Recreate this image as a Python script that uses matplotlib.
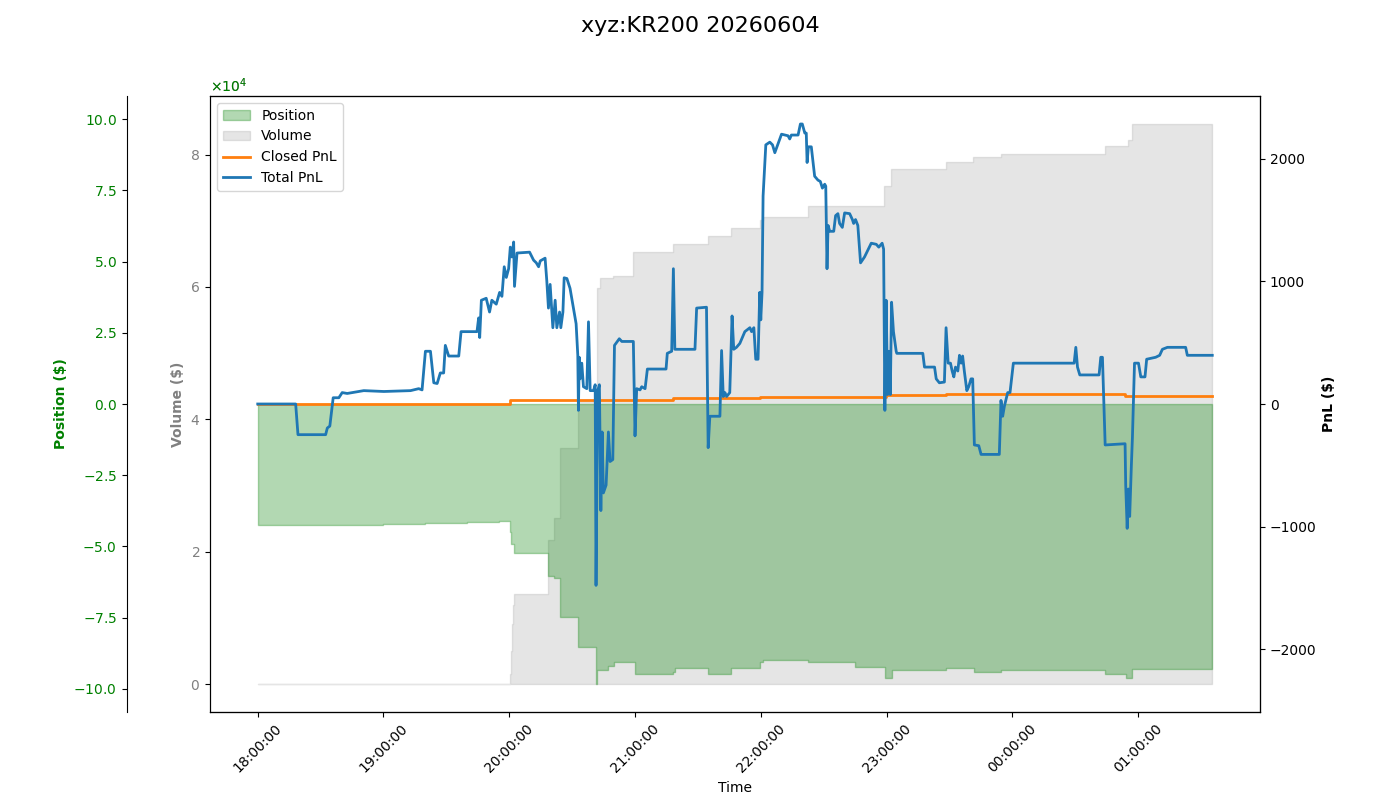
import matplotlib
matplotlib.use("Agg")
import matplotlib.pyplot as plt
import matplotlib.dates as mdates
import pandas as pd
import numpy as np

# minutes after 18:00 on 2026-06-04
pnl_min = [0, 18.1, 19.2, 32.4, 33.2, 34.4, 36.0, 38.7, 40.3, 42.7, 50.6, 60.2, 72.9, 76.8,
           78.4, 80.0, 82.4, 84.0, 85.6, 87.1, 88.7, 89.5, 91.1, 95.9, 97.0, 104.6, 105.4,
           105.9, 106.7, 109.0, 110.6, 111.7, 113.8, 115.4, 116.5, 117.6, 118.6, 119.7, 120.5,
           121.3, 122.1, 122.5, 123.7, 129.7, 131.6, 132.9, 134.0, 134.8, 137.1, 137.9, 138.7,
           139.5, 140.8, 141.9, 142.7, 144.0, 144.6, 145.6, 146.2, 147.5, 149.0, 150.6, 151.9,
           152.7, 153.0, 153.4, 153.8, 154.6, 155.4, 157.0, 157.8, 158.6, 160.2, 161.0, 161.4,
           162.2, 163.0, 163.7, 164.3, 164.9, 166.2, 167.3, 168.1, 169.4, 170.2, 172.5, 173.7,
           179.2, 180.0, 180.8, 182.4, 183.2, 184.8, 185.9, 194.8, 195.4, 197.5, 198.3, 199.0,
           208.6, 209.4, 214.1, 214.9, 215.7, 220.5, 221.3, 222.1, 222.9, 223.7, 225.2, 226.3,
           227.1, 228.4, 230.0, 232.4, 234.8, 235.6, 236.7, 237.6, 238.7, 239.5, 240.0, 240.6,
           241.1, 242.4, 244.3, 245.6, 246.7, 249.9, 253.0, 253.8, 254.6, 257.8, 258.9, 259.8,
           261.0, 261.7, 262.1, 262.7, 264.1, 265.7, 267.3, 268.4, 269.4, 270.5, 271.0, 271.6,
           272.1, 272.9, 274.8, 275.7, 276.8, 277.6, 278.9, 280.0, 282.4, 283.7, 284.3, 285.2,
           286.3, 287.6, 289.5, 292.7, 295.1, 296.3, 297.9, 298.6, 299.2, 299.8, 300.5, 301.1,
           301.8, 302.4, 303.3, 304.6, 304.9, 317.3, 318.1, 322.9, 323.7, 325.2, 327.6, 328.4,
           329.4, 330.5, 331.3, 332.1, 332.9, 334.0, 334.8, 335.6, 336.3, 337.1, 338.3, 339.2,
           340.3, 341.1, 341.9, 344.0, 345.1, 353.8, 354.6, 355.4, 356.2, 357.8, 358.9, 360.5,
           389.5, 390.3, 391.1, 392.2, 401.4, 402.2, 403.0, 404.3, 413.8, 414.1, 414.8, 415.4,
           416.0, 416.8, 417.3, 418.3, 420.2, 421.3, 423.3, 424.1, 428.4, 430.3, 431.6, 434.0,
           442.7, 443.5, 455.4]
total_pnl = [0, 0, -250, -250, -196, -180, 51, 51, 93, 86, 109, 102, 109, 125,
             115, 430, 430, 173, 167, 253, 253, 478, 391, 391, 590, 590, 702,
             542, 846, 862, 750, 846, 814, 910, 878, 1119, 1032, 1103, 1279,
             1199, 1321, 959, 1231, 1238, 1173, 1151, 1119, 1167, 1189, 1007, 782,
             975, 622, 846, 622, 750, 622, 750, 1029, 1023, 943, 782, 654,
             397, -52, 381, 205, 333, 141, 125, 670, 109, 109, 157, -1479,
             109, 157, -869, -228, -725, -661, -228, -469, -453, 478, 532, 510,
             510, -260, 125, 115, 141, 125, 285, 285, 413, 430, 1103, 446,
             446, 782, 789, -356, -100, -100, 436, 61, 93, 61, 93, 718,
             446, 462, 494, 590, 622, 590, 622, 365, 365, 910, 686, 910,
             1696, 2113, 2135, 2113, 2049, 2200, 2187, 2161, 2193, 2193, 2283, 2283,
             2209, 2209, 1969, 2097, 2097, 1857, 1825, 1815, 1760, 1792, 1776, 1103,
             1456, 1408, 1408, 1536, 1552, 1472, 1440, 1558, 1552, 1504, 1472, 1504,
             1456, 1151, 1199, 1311, 1302, 1279, 1311, 1263, -52, 846, 77, 430,
             77, 830, 590, 430, 413, 413, 301, 301, 205, 173, 179, 622,
             333, 333, 269, 221, 301, 269, 397, 333, 391, 269, 109, 141,
             205, 205, -334, -340, -411, -411, 29, -100, -20, 93, 93, 333,
             333, 462, 301, 237, 237, 381, 381, -334, -324, -661, -1014, -693,
             -917, -501, -276, 333, 333, 221, 221, 365, 381, 397, 446, 462,
             462, 397, 397]

closed_min = [0, 120.5, 161.0, 198.3, 239.5, 299.8, 328.4, 414.0, 455.4]
closed_pnl = [0, 35, 30, 45, 57, 73, 78, 68, 68]

vol_min = [0, 120.0, 120.4, 120.8, 121.3, 121.8, 122.5, 138.7, 141.4, 144.3, 153.0, 161.7,
           163.3, 169.6, 179.2, 198.3, 214.9, 226.0, 239.5, 241.1, 262.3, 298.9, 302.0,
           328.4, 341.1, 354.6, 404.0, 415.0, 417.3, 455.4]
volume = [0, 0, 1500, 5000, 9000, 12000, 13610, 21820, 25100, 35600, 42800, 59900,
          61400, 61700, 65270, 66460, 67650, 68840, 70150, 70630, 72240, 75270, 77770,
          78840, 79680, 80150, 81340, 82240, 84620, 84620]

pos_min = [0, 19.0, 36.0, 60.0, 80.0, 100.0, 115.0, 120.0, 120.5, 121.0, 122.5, 138.7,
           141.4, 144.0, 153.0, 161.4, 161.9, 167.3, 170.2, 180.0, 198.3, 199.0, 214.9,
           226.0, 239.5, 241.1, 262.3, 285.0, 299.2, 302.4, 328.4, 341.9, 354.6, 404.0,
           414.1, 417.3, 455.4]
position = [-42330, -42600, -42330, -42200, -41900, -41500, -41230, -41230, -45000, -49000,
            -52400, -60490, -61000, -74940, -85260, -98330, -93510, -92140, -90760, -94890,
            -94200, -92830, -94890, -92550, -90760, -90070, -90760, -92200, -96270, -93510,
            -92830, -94200, -93510, -94890, -96270, -93100, -93100]

t0 = pd.Timestamp("2026-06-04 18:00:00")


def to_time(mins):
    return (t0 + pd.to_timedelta(mins, unit="m")).to_numpy()


fig, ax_vol = plt.subplots(figsize=(14, 8), dpi=100)
fig.subplots_adjust(left=0.15, right=0.9, top=0.88, bottom=0.11)
ax_pos = ax_vol.twinx()
ax_pnl = ax_vol.twinx()

# volume (host axis, left)
ax_vol.fill_between(to_time(vol_min), 0, volume, step="post", color="gray", alpha=0.2, label="Volume")
ax_vol.set_ylabel("Volume ($)", color="gray", fontweight="bold")
ax_vol.tick_params(axis="y", labelcolor="gray")
ax_vol.ticklabel_format(axis="y", style="sci", scilimits=(4, 4), useMathText=True)
ax_vol.yaxis.get_offset_text().set_color("gray")

# position (outer left axis)
ax_pos.fill_between(to_time(pos_min), 0, position, step="post", color="green", alpha=0.3, label="Position")
ax_pos.spines["left"].set_position(("outward", 60))
ax_pos.spines["left"].set_visible(True)
ax_pos.yaxis.set_ticks_position("left")
ax_pos.yaxis.set_label_position("left")
ax_pos.yaxis.set_offset_position("left")
ax_pos.set_ylabel("Position ($)", color="green", fontweight="bold")
ax_pos.tick_params(axis="y", labelcolor="green")
ax_pos.ticklabel_format(axis="y", style="sci", scilimits=(4, 4), useMathText=True)
ax_pos.yaxis.get_offset_text().set_color("green")
plim = max(abs(min(position)), abs(max(position))) * 1.1
ax_pos.set_ylim(-plim, plim)

# pnl (right axis)
ax_pnl.plot(to_time(closed_min), closed_pnl, drawstyle="steps-post", color="tab:orange", lw=2, label="Closed PnL")
ax_pnl.plot(to_time(pnl_min), total_pnl, color="tab:blue", lw=2, label="Total PnL")
ax_pnl.set_ylabel("PnL ($)", color="black", fontweight="bold")
lim = max(abs(min(total_pnl)), abs(max(total_pnl))) * 1.1
ax_pnl.set_ylim(-lim, lim)

# time axis
ax_vol.xaxis.set_major_locator(mdates.HourLocator())
ax_vol.xaxis.set_major_formatter(mdates.DateFormatter("%H:%M:%S"))
plt.setp(ax_vol.get_xticklabels(), rotation=45)
ax_vol.set_xlabel("Time")

handles, labels = [], []
for a in (ax_pos, ax_vol, ax_pnl):
    h, l = a.get_legend_handles_labels()
    handles += h
    labels += l
ax_pnl.legend(handles, labels, loc="upper left")

fig.suptitle("xyz:KR200 20260604", fontsize=16)
fig.savefig("out.png", dpi=100)
